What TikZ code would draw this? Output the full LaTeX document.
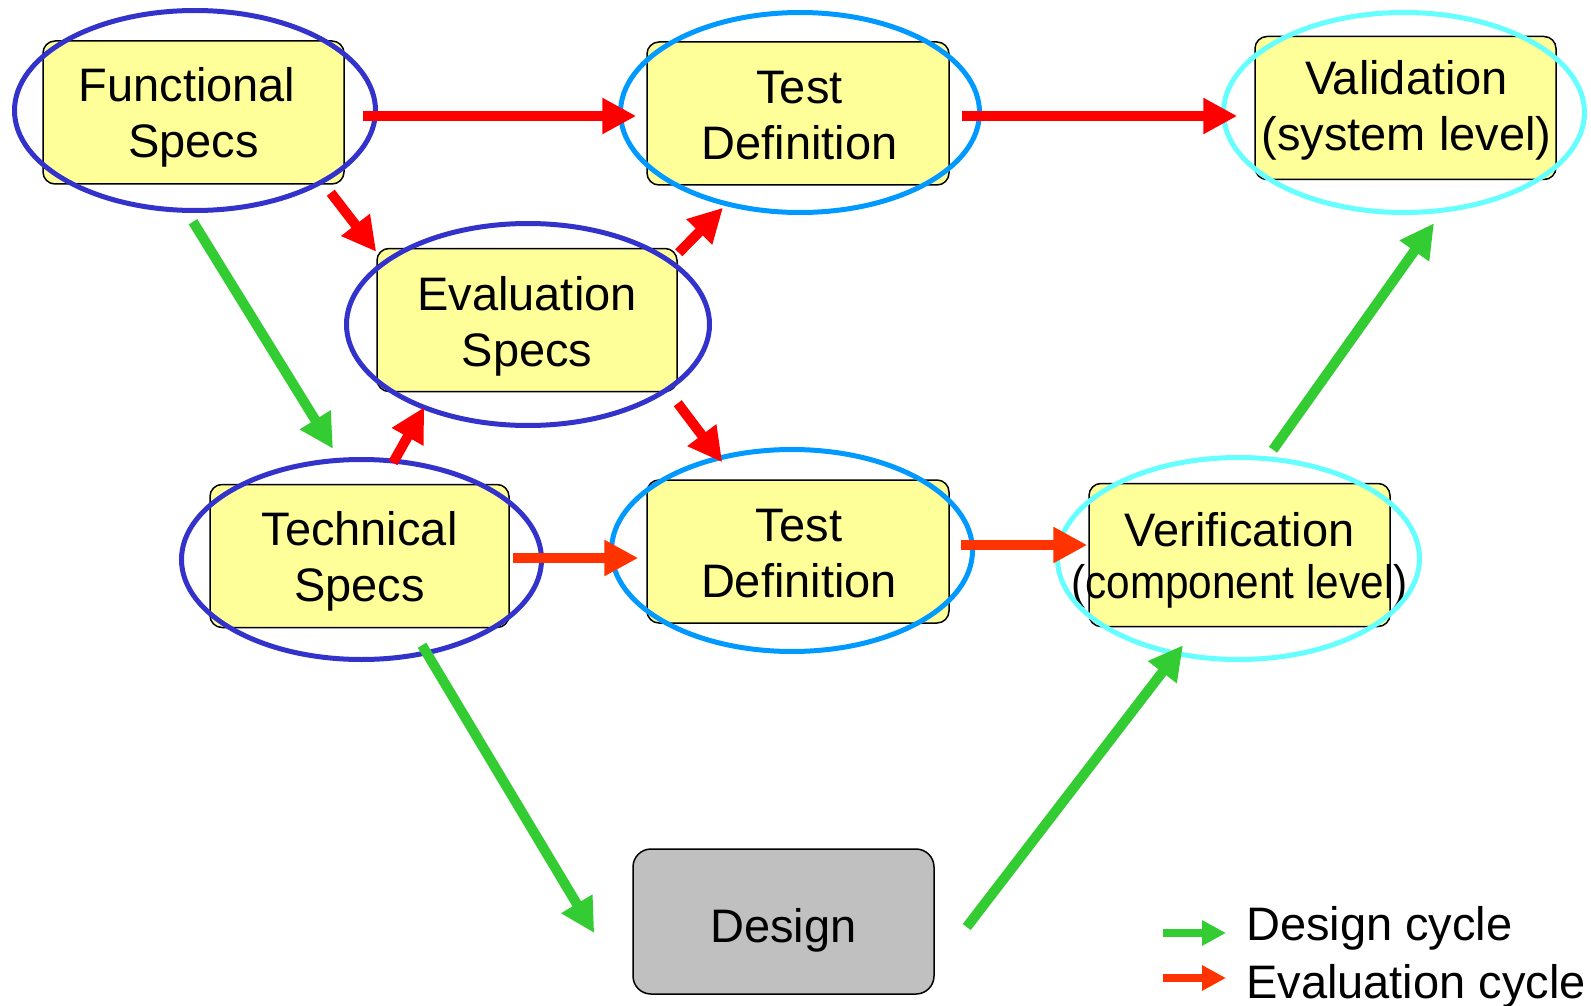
\documentclass[tikz,border=0pt]{standalone}
\usepackage{fontspec}
\usepackage{graphicx}
\setmainfont{Liberation Sans}
\usetikzlibrary{arrows.meta,shapes.geometric,calc}
\definecolor{boxyellow}{HTML}{FFFF99}
\definecolor{boxgray}{HTML}{C0C0C0}
\definecolor{redA}{HTML}{FF0000}
\definecolor{redB}{HTML}{FF3300}
\definecolor{greenA}{HTML}{33CC33}
\definecolor{ellDark}{HTML}{3333CC}
\definecolor{ellMid}{HTML}{0099FF}
\definecolor{ellLight}{HTML}{66FFFF}
\tikzset{
  specbox/.style={draw=black, line width=1.5pt, fill=boxyellow, rounded corners=12pt,
    minimum width=#1, minimum height=143pt, inner sep=0pt},
  specbox/.default=300pt,
  designbox/.style={specbox, fill=boxgray, rounded corners=18pt},
  boxtext/.style={inner sep=0pt, align=center, font=\fontsize{47}{56}\selectfont},
  ring/.style={ellipse, draw=#1, line width=5pt, inner sep=0pt, minimum width=361pt, minimum height=200pt},
  arr/.style={line width=10pt, draw=#1, -{Triangle[length=34pt,width=34pt,fill=#1]}},
  legarr/.style={line width=8pt, draw=#1, -{Triangle[length=24pt,width=24pt,fill=#1]}},
  legtext/.style={anchor=base west, inner sep=0pt, font=\fontsize{47}{56}\selectfont}
}
\begin{document}
\begin{tikzpicture}[x=1pt,y=-1pt]
\useasboundingbox[fill=white] (0,0) rectangle (1591,1006);
% boxes
\node[specbox=301pt] (fs) at (193.5,112.5) {};
\node[specbox=300pt] (ev) at (527,320) {};
\node[specbox=302pt] (td1) at (798,113.5) {};
\node[specbox=301pt] (va) at (1405.5,108) {};
\node[specbox=299pt] (ts) at (359.5,556) {};
\node[specbox=302pt] (td2) at (798,551.5) {};
\node[specbox=301pt] (ve) at (1239.5,555) {};
\node[designbox, minimum width=301pt, minimum height=145pt] (de) at (783.5,921.5) {};
% box texts
\node[boxtext] (fst) at ($(fs.center)+(0,6.3)$) {Functional\hspace*{13pt}\strut\\Specs\strut};
\node[boxtext] (evt) at ($(ev.center)+(0,6.8)$) {Evaluation\strut\\Specs\strut};
\node[boxtext] (td1t) at ($(td1.center)+(1.5,7.3)$) {Test\strut\\Definition\strut};
\node[boxtext] (vat) at ($(va.center)+(1,3.8)$) {Validation\strut\\(system level)\strut};
\node[boxtext] (tst) at ($(ts.center)+(0,5.8)$) {Technical\strut\\Specs\strut};
\node[boxtext] (td2t) at ($(td2.center)+(1,7)$) {Test\strut\\Definition\strut};
\node[boxtext, font=\fontsize{47}{52}\selectfont] (vet) at ($(ve.center)+(0,7.3)$) {Verification\strut\\\scalebox{0.9}[1]{(component level)}\strut};
\node[boxtext] (det) at ($(de.center)+(0,9.3)$) {Design\strut};
% ellipses
\node[ring=ellDark] (fe) at (195,110.5) {};
\node[ring=ellDark, minimum width=363pt, minimum height=202pt] (ee) at (528,324.5) {};
\node[ring=ellMid, minimum width=359pt] (te1) at (800,112.5) {};
\node[ring=ellLight] (vae) at (1404,112.5) {};
\node[ring=ellDark, minimum width=360pt] (tse) at (361.5,559.5) {};
\node[ring=ellMid, minimum height=202pt] (te2) at (792,550.5) {};
\node[ring=ellLight, minimum width=362pt, minimum height=202pt] (vee) at (1238.5,558.5) {};
% evaluation cycle arrows
\draw[arr=redA] ($(fs.east)+(18,3.5)$) -- ($(td1.west)+(-10,2.5)$);
\draw[arr=redA] ($(td1.east)+(12,2.5)$) -- ($(va.west)+(-17,8)$);
\draw[arr=redA] ($(fs.south east)+(-14,8)$) -- ($(ev.north west)+(0,4)$);
\draw[arr=redA] ($(ev.north east)+(1,5)$) -- ($(td1.south)+(-75,22)$);
\draw[arr=redA] ($(ts.north)+(33.5,-21)$) -- ($(ev.south west)+(48,15)$);
\draw[arr=redA] ($(ev.south east)+(0,11)$) -- ($(td2.north west)+(76,-17)$);
\draw[arr=redB] ($(ts.east)+(3,2)$) -- ($(td2.west)+(-8,6.5)$);
\draw[arr=redB] ($(td2.east)+(11,-6.5)$) -- ($(ve.west)+(-1,-10)$);
% design cycle arrows
\draw[arr=greenA] ($(fs.south)+(-0.5,37)$) -- ($(ts.north)+(-26.5,-35)$);
\draw[arr=greenA] ($(ts.south)+(62.5,17)$) -- ($(de.west)+(-38,11.5)$);
\draw[arr=greenA] ($(de.east)+(32,5.5)$) -- ($(ve.south)+(-56.5,18)$);
\draw[arr=greenA] ($(ve.north)+(33.5,-33)$) -- ($(va.south)+(28.5,43)$);
% legend
\node[legtext] (lg1) at (1246,940) {Design cycle};
\node[legtext] (lg2) at (1246,998) {Evaluation cycle};
\draw[legarr=greenA] ($(lg1.base west)+(-83,-7)$) -- ($(lg1.base west)+(-20,-7)$);
\draw[legarr=redB] ($(lg2.base west)+(-83,-20)$) -- ($(lg2.base west)+(-20,-20)$);
\end{tikzpicture}
\end{document}
